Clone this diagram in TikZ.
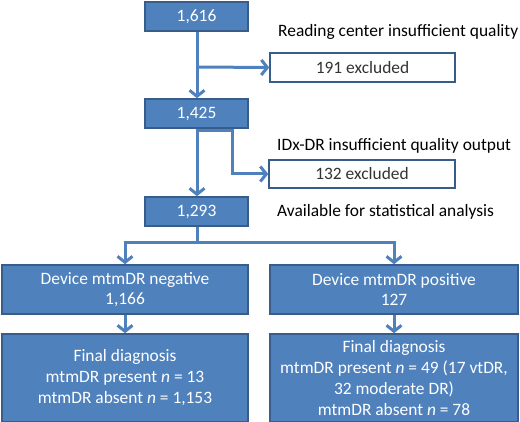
\documentclass[tikz,border=0pt]{standalone}
\usepackage{fontspec}
\setmainfont{Carlito}
\usetikzlibrary{arrows.meta}

\definecolor{boxblue}{HTML}{4F81BD}
\definecolor{boxedge}{HTML}{385D8A}

\tikzset{
  countbox/.style={draw=boxedge, line width=1.5pt, fill=boxblue, text=white, align=center, inner sep=0pt, font=\fontsize{17.4}{20}\selectfont},
  exclbox/.style={draw=boxedge, line width=1.5pt, fill=white, text=black!80, align=center, inner sep=0pt, font=\fontsize{17.4}{20}\selectfont},
  note/.style={anchor=west, inner sep=0pt, text=black, font=\fontsize{17.4}{20}\selectfont},
  flow/.style={draw=boxblue, line width=3pt, -{Straight Barb[length=6pt, width=15pt, line width=3pt]}},
}

\begin{document}
\begin{tikzpicture}[x=1pt, y=-1pt]
    \useasboundingbox (0,0) rectangle (520,422);
    % counts down the middle
    \node[countbox, minimum width=103pt, minimum height=29pt] (n1616) at (196.5,16.5) {1,616};
    \node[countbox, minimum width=103pt, minimum height=29pt] (n1425) at (196.5,113.5) {1,425};
    \node[countbox, minimum width=103pt, minimum height=29pt] (n1293) at (196.5,211.5) {1,293};
    % exclusions
    \node[exclbox, minimum width=185pt, minimum height=29pt] (ex191) at (362.5,67.5) {191 excluded};
    \node[exclbox, minimum width=186pt, minimum height=28pt] (ex132) at (362,174) {132 excluded};
    \node[note] (rdc) at (278,32) {Reading center insufficient quality};
    \node[note] (idx) at (277,146) {IDx-DR insufficient quality output};
    \node[note] (avl) at (277,211.5) {Available for statistical analysis};
    % device result
    \node[countbox, minimum width=246pt, minimum height=49pt] (neg) at (125,289.5) {Device mtmDR negative\\1,166};
    \node[countbox, minimum width=248pt, minimum height=49pt] (pos) at (394,289.5) {Device mtmDR positive\\127};
    \node[countbox, minimum width=246pt, minimum height=88pt, font=\fontsize{17.4}{21}\selectfont] (finneg) at (125,378) {Final diagnosis\\mtmDR present \textit{n} = 13\\mtmDR absent \textit{n} = 1,153};
    \node[countbox, minimum width=248pt, minimum height=88pt, font=\fontsize{17.4}{21}\selectfont] (finpos) at (394,378) {Final diagnosis\\mtmDR present \textit{n} = 49 (17 vtDR,\\32 moderate DR)\\mtmDR absent \textit{n} = 78};
    % connectors
    \coordinate (t1) at (197,67);
    \coordinate (t2a) at (197,131);
    \coordinate (t2b) at (232,131);
    \coordinate (t2c) at (232,174);
    \coordinate (t3) at (197,243);
    \draw[flow] (n1616.south -| t1) -- (n1425.north -| t1);
    \draw[flow] (t1) -- (ex191.west);
    \draw[flow] (n1425.south -| t1) -- (n1293.north -| t1);
    \draw[flow] (t2a) -- (t2b) -- (t2c) -- (ex132.west);
    \draw[draw=boxblue, line width=3pt] (n1293.south -| t3) -- (t3);
    \draw[flow] (t3) -| (neg.north);
    \draw[flow] (t3) -| (pos.north);
    \draw[flow] (neg) -- (finneg);
    \draw[flow] (pos) -- (finpos);
\end{tikzpicture}
\end{document}
